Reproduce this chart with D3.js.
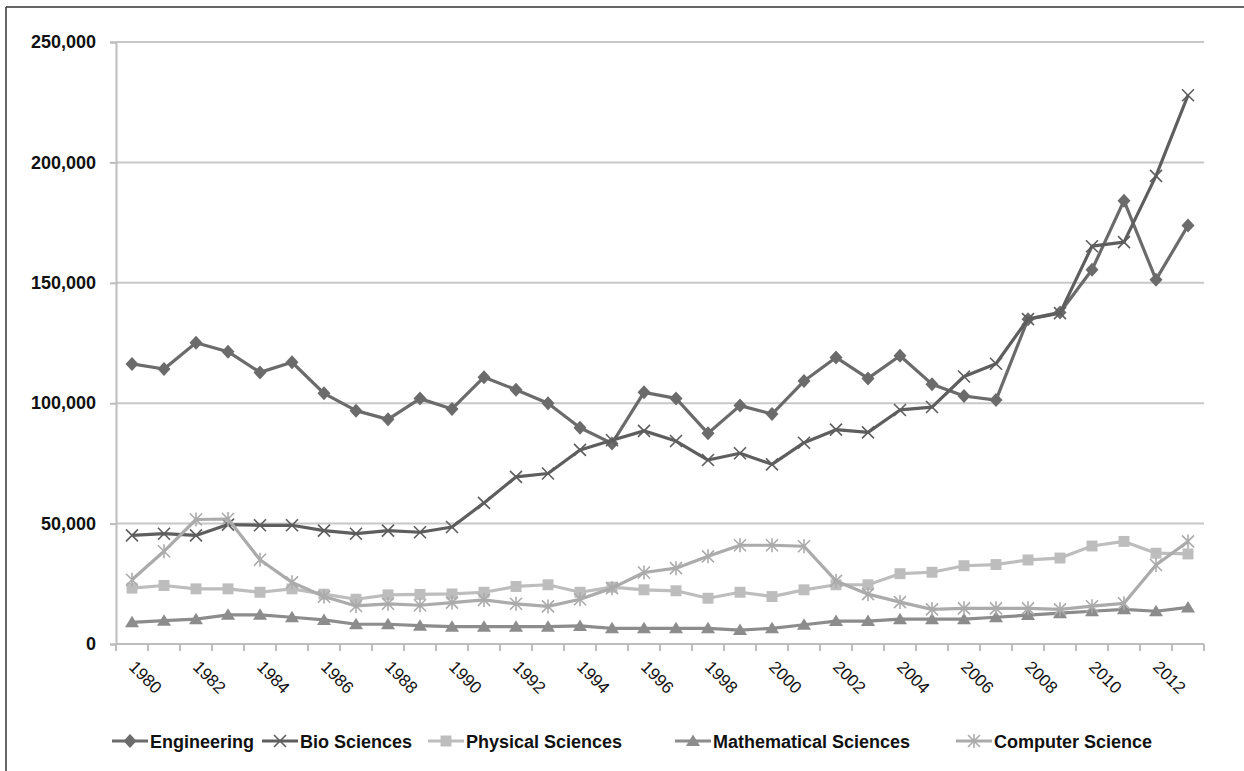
<!DOCTYPE html>
<html>
<head>
<meta charset="utf-8">
<script src="https://cdn.jsdelivr.net/npm/d3@7/dist/d3.min.js"></script>
<style>
body { margin: 0; background: #fff; }
svg text { font-family: "Liberation Sans", Arial, sans-serif; fill: #111; }
</style>
</head>
<body>
<script>
// chart data
var years = [1980,1981,1982,1983,1984,1985,1986,1987,1988,1989,1990,1991,1992,1993,1994,1995,1996,
             1997,1998,1999,2000,2001,2002,2003,2004,2005,2006,2007,2008,2009,2010,2011,2012,2013];
var engineering = [116300,114200,125100,121400,112800,117000,104100,96900,93300,101900,97600,110800,105600,100000,89800,83300,104500,
                   102000,87500,99000,95500,109200,119000,110300,119700,107900,103000,101300,134900,137700,155400,184100,151300,173800];
var bioSciences = [45100,45800,45100,49600,49300,49300,47100,45800,47100,46400,48600,58600,69400,70800,80600,84600,88500,
                   84300,76400,79200,74600,83600,89000,87900,97200,98400,111100,116400,134900,137400,165200,166900,194400,227900];
var physicalSciences = [23200,24300,22900,22900,21500,22900,20700,18600,20400,20600,20800,21500,23900,24600,21500,23600,22500,
                        22100,19000,21500,19700,22500,24600,24600,29200,29800,32500,33000,34900,35700,40700,42600,37700,37400];
var mathSciences = [9000,9700,10300,12100,12100,11100,10000,8200,8200,7600,7200,7200,7200,7200,7500,6500,6500,
                    6500,6500,5800,6500,8000,9500,9500,10300,10300,10300,11100,12000,12800,13600,14400,13600,15200];
var computerScience = [26700,38500,51700,51900,35000,25600,19700,15800,16700,16100,17200,18300,16700,15600,18600,23200,29700,
                       31500,36400,41000,41000,40600,26200,20700,17400,14400,14800,14800,14800,14400,15700,16900,32800,42600];
var yTicks = [0,50000,100000,150000,200000,250000];

var series = [
  {name: "Engineering", values: engineering, color: "#6b6b6b", marker: "diamond"},
  {name: "Bio Sciences", values: bioSciences, color: "#5e5e5e", marker: "x"},
  {name: "Physical Sciences", values: physicalSciences, color: "#bdbdbd", marker: "square"},
  {name: "Mathematical Sciences", values: mathSciences, color: "#8c8c8c", marker: "triangle"},
  {name: "Computer Science", values: computerScience, color: "#ababab", marker: "star"}
];

var width = 1244, height = 771;
var svg = d3.select("body").append("svg")
    .attr("width", width)
    .attr("height", height);

// frame (top + left edge like the screenshot)
svg.append("line").attr("x1", 6).attr("x2", width).attr("y1", 7).attr("y2", 7)
    .attr("stroke", "#333").attr("stroke-width", 1.5);
svg.append("line").attr("x1", 6).attr("x2", 6).attr("y1", 7).attr("y2", height)
    .attr("stroke", "#333").attr("stroke-width", 1.5);

var x = d3.scaleBand().domain(years).range([116, 1204]).padding(0);
var y = d3.scaleLinear().domain([0, 250000]).range([644, 42]);
function cx(i) { return x(years[i]) + x.bandwidth() / 2; }

// gridlines
svg.append("g").selectAll("line")
    .data(yTicks.filter(function(d) { return d > 0; }))
    .enter().append("line")
    .attr("x1", 116).attr("x2", 1204)
    .attr("y1", function(d) { return y(d); })
    .attr("y2", function(d) { return y(d); })
    .attr("stroke", "#c8c8c8").attr("stroke-width", 2);

// y axis
var yAxis = svg.append("g")
    .attr("transform", "translate(116,0)")
    .call(d3.axisLeft(y).tickValues(yTicks).tickFormat(d3.format(",")).tickSize(6).tickPadding(14));
yAxis.select(".domain").attr("stroke", "#bdbdbd").attr("stroke-width", 2);
yAxis.selectAll(".tick line").attr("stroke", "#bdbdbd").attr("stroke-width", 2);
yAxis.selectAll("text").attr("font-size", 18).attr("font-weight", "bold").attr("fill", "#111");

// x axis line + ticks at band edges
svg.append("line").attr("x1", 116).attr("x2", 1204).attr("y1", 644).attr("y2", 644)
    .attr("stroke", "#bdbdbd").attr("stroke-width", 2);
var edges = years.map(function(d) { return x(d); }).concat([x.range()[1]]);
svg.append("g").selectAll("line").data(edges).enter().append("line")
    .attr("x1", function(d) { return d; }).attr("x2", function(d) { return d; })
    .attr("y1", 644).attr("y2", 651)
    .attr("stroke", "#bdbdbd").attr("stroke-width", 2);

// x labels, every second year, rotated
var xAxis = svg.append("g")
    .attr("transform", "translate(0,644)")
    .call(d3.axisBottom(x).tickSize(0)
        .tickValues(years.filter(function(d) { return d % 2 === 0; })));
xAxis.select(".domain").remove();
xAxis.selectAll("text")
    .attr("font-size", 17)
    .attr("fill", "#111")
    .attr("text-anchor", "start")
    .attr("dy", "0")
    .attr("y", 0)
    .attr("transform", "translate(-4,24) rotate(45)");

// marker drawing
function drawMarker(g, type, color) {
  if (type === "diamond") {
    g.append("path").attr("d", "M0,-7L6.5,0L0,7L-6.5,0Z").attr("fill", color);
  } else if (type === "square") {
    g.append("path").attr("d", d3.symbol(d3.symbolSquare, 120)()).attr("fill", color);
  } else if (type === "triangle") {
    g.append("path").attr("d", "M0,-6.5L7,5L-7,5Z").attr("fill", color);
  } else if (type === "x") {
    g.append("path").attr("d", "M-6,-6L6,6M-6,6L6,-6").attr("stroke", color).attr("stroke-width", 1.6).attr("fill", "none");
  } else if (type === "star") {
    g.append("path").attr("d", "M-6,-6L6,6M-6,6L6,-6M0,-7L0,7").attr("stroke", color).attr("stroke-width", 1.6).attr("fill", "none");
  }
}

var line = d3.line()
    .x(function(d, i) { return cx(i); })
    .y(function(d) { return y(d); });

series.forEach(function(s) {
  var g = svg.append("g");
  g.append("path")
    .datum(s.values)
    .attr("d", line)
    .attr("fill", "none")
    .attr("stroke", s.color)
    .attr("stroke-width", 3.2)
    .attr("stroke-linejoin", "round");
  s.values.forEach(function(v, i) {
    var m = g.append("g").attr("transform", "translate(" + cx(i) + "," + y(v) + ")");
    drawMarker(m, s.marker, s.color);
  });
});

// legend
var legendX = [150, 300, 466, 713, 994];
var legend = svg.append("g");
series.forEach(function(s, i) {
  var lg = legend.append("g").attr("transform", "translate(" + legendX[i] + ",741)");
  lg.append("line").attr("x1", -38).attr("x2", -2).attr("y1", 0).attr("y2", 0)
    .attr("stroke", s.color).attr("stroke-width", 3.2);
  var m = lg.append("g").attr("transform", "translate(-20,0)");
  drawMarker(m, s.marker, s.color);
  lg.append("text").attr("x", 0).attr("y", 6.5)
    .attr("font-size", 18).attr("font-weight", "bold")
    .text(s.name);
});
</script>
</body>
</html>
